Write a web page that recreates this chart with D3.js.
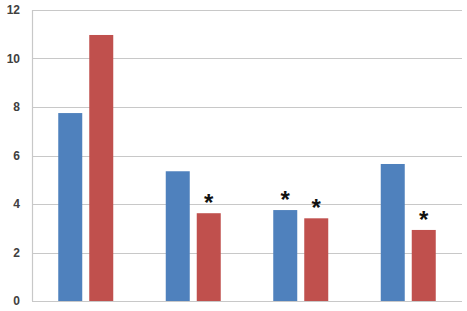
<!DOCTYPE html>
<html>
<head>
<meta charset="utf-8">
<script src="https://cdn.jsdelivr.net/npm/d3@7"></script>
<style>
  body { margin: 0; background: #fff; }
  svg { display: block; font-family: "Liberation Sans", Arial, sans-serif; }
</style>
</head>
<body>
<div id="chart"></div>
<script>
// values
const groups = ["A", "B", "C", "D"];
const seriesBlue = [7.75, 5.35, 3.75, 5.65];
const seriesRed = [10.97, 3.62, 3.41, 2.93];
// asterisk flags (significance marks)
const starBlue = [false, false, true, false];
const starRed = [false, true, true, true];
const yTicks = [0, 2, 4, 6, 8, 10, 12];

const width = 467, height = 311;
const margin = { top: 10, right: 5, bottom: 10, left: 32 };

const svg = d3.select("#chart").append("svg")
    .attr("width", width)
    .attr("height", height);

const scaleX = d3.scaleBand(groups, [margin.left, width - margin.right]);
const scaleY = d3.scaleLinear([0, 12], [height - margin.bottom, margin.top]);

// gridlines
svg.append("g")
    .selectAll("line")
    .data(yTicks)
    .join("line")
    .attr("x1", margin.left)
    .attr("x2", width - margin.right)
    .attr("y1", d => Math.round(scaleY(d)) + 0.5)
    .attr("y2", d => Math.round(scaleY(d)) + 0.5)
    .attr("stroke", "#c8c8c8")
    .attr("stroke-width", 1.2);

// left axis line
svg.append("line")
    .attr("x1", margin.left + 0.5)
    .attr("x2", margin.left + 0.5)
    .attr("y1", scaleY(12))
    .attr("y2", scaleY(0))
    .attr("stroke", "#c8c8c8")
    .attr("stroke-width", 1.2);

// y tick labels
svg.append("g")
    .selectAll("text")
    .data(yTicks)
    .join("text")
    .attr("x", 20)
    .attr("y", d => scaleY(d))
    .attr("dy", "0.35em")
    .attr("text-anchor", "end")
    .attr("fill", "#404040")
    .style("font-size", "12px")
    .style("font-weight", "bold")
    .text(d => d);

const barW = 24, gap = 7;
const series = [
    { values: seriesBlue, stars: starBlue, color: "#4f81bd", offset: -(gap / 2 + barW) },
    { values: seriesRed, stars: starRed, color: "#c0504d", offset: gap / 2 }
];

series.forEach(s => {
    const data = groups.map((g, i) => ({ g, v: s.values[i], star: s.stars[i] }));
    const cx = d => scaleX(d.g) + scaleX.bandwidth() / 2 + s.offset;

    svg.append("g")
        .selectAll("rect")
        .data(data)
        .join("rect")
        .attr("x", cx)
        .attr("width", barW)
        .attr("y", d => scaleY(d.v))
        .attr("height", d => scaleY(0) - scaleY(d.v))
        .attr("fill", s.color);

    svg.append("g")
        .selectAll("text")
        .data(data.filter(d => d.star))
        .join("text")
        .attr("x", d => cx(d) + barW / 2)
        .attr("y", d => scaleY(d.v) - 2)
        .attr("text-anchor", "middle")
        .attr("fill", "#111")
        .style("font-size", "24px")
        .style("font-weight", "bold")
        .text("*");
});
</script>
</body>
</html>
